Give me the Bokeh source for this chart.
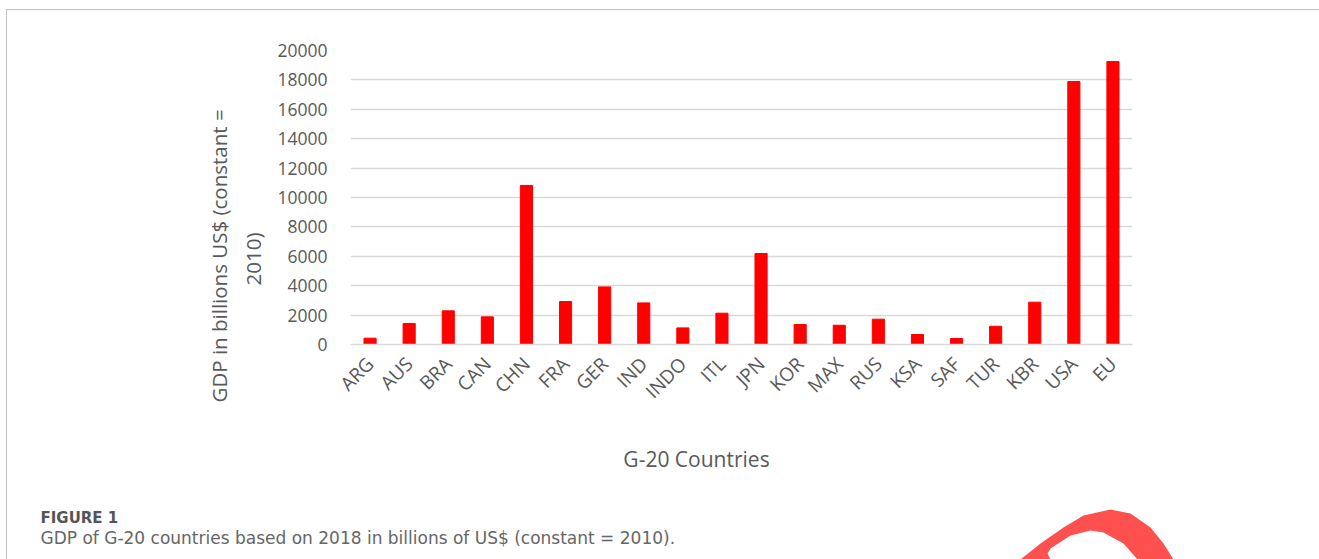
import math
from bokeh.plotting import figure
from bokeh.models import Range1d, FixedTicker, Title
from bokeh.layouts import column, row
from bokeh.core.properties import value
from bokeh.embed import file_html
from bokeh.resources import INLINE

countries = ["ARG", "AUS", "BRA", "CAN", "CHN", "FRA", "GER", "IND", "INDO", "ITL",
             "JPN", "KOR", "MAX", "RUS", "KSA", "SAF", "TUR", "KBR", "USA", "EU"]
gdp = [430, 1430, 2290, 1880, 10820, 2920, 3920, 2830, 1130, 2130,
       6190, 1360, 1310, 1720, 680, 410, 1240, 2880, 17890, 19250]
y_ticks = [0, 2000, 4000, 6000, 8000, 10000, 12000, 14000, 16000, 18000, 20000]
y_title_1 = "GDP in billions US$ (constant ="
y_title_2 = "2010)"
x_title = "G-20 Countries"
fig_label = "FIGURE 1"
caption = "GDP of G-20 countries based on 2018 in billions of US$ (constant = 2010)."

W, H = 1319, 559
FONT = "Open Sans"
CAP_FONT = "DejaVu Sans"
GRAY = "#595959"
FRAME = "#c4c4c4"

OX, OY = 7, 10           # content origin (after margin + 1px border)
CW = W - OX              # content width
P_H = 430                # chart figure height (global 10..440)
B_H = H - OY - P_H       # bottom figure height (global 440..559)

# main chart
p = figure(width=CW, height=P_H, x_range=countries, y_range=Range1d(0, 20000),
           output_backend="svg", toolbar_location=None,
           min_border_left=350 - OX, min_border_right=W - 1132,
           min_border_top=50 - OY, min_border_bottom=OY + P_H - 344)
p.outline_line_color = None
p.background_fill_color = "white"
p.border_fill_color = "white"

p.vbar(x=countries, top=gdp, width=0.31, color="#ff0000")

p.yaxis.ticker = FixedTicker(ticks=y_ticks)
p.yaxis.axis_line_color = None
p.yaxis.major_tick_line_color = None
p.yaxis.minor_tick_line_color = None
p.yaxis.major_label_standoff = 17
p.yaxis.major_label_text_font = FONT
p.yaxis.major_label_text_font_size = "17.5px"
p.yaxis.major_label_text_color = GRAY

p.xaxis.axis_line_color = "#d9d9d9"
p.xaxis.axis_line_width = 1.5
p.xaxis.major_tick_line_color = None
p.xaxis.minor_tick_line_color = None
p.xaxis.major_label_orientation = math.pi / 4
p.xaxis.major_label_standoff = 10
p.xaxis.major_label_text_font = FONT
p.xaxis.major_label_text_font_size = "19px"
p.xaxis.major_label_text_color = GRAY

p.xgrid.grid_line_color = None
p.ygrid.grid_line_color = "#d9d9d9"
p.ygrid.grid_line_width = 1.5


def make_title(text, standoff, offset):
    kw = dict(text=text, align="left", offset=offset, text_font=FONT,
              text_font_size="20.5px", text_font_style="normal", text_color=GRAY)
    try:
        return Title(standoff=standoff, **kw)
    except Exception:
        return Title(standoff=max(standoff, 0), **kw)


p.add_layout(make_title(y_title_2, 16, 59), "left")
p.add_layout(make_title(y_title_1, -8, -58), "left")

# bottom panel: x title, caption, decoration
bot = figure(width=CW, height=B_H, x_range=Range1d(OX, W), y_range=Range1d(H, OY + P_H),
             output_backend="svg", toolbar_location=None, min_border=0)
bot.axis.visible = False
bot.grid.visible = False
bot.outline_line_color = None
bot.background_fill_color = "white"
bot.border_fill_color = "white"


def txt(f, x, y, text, size, font=FONT, color=GRAY, align="left", style="normal"):
    f.text(x=[x], y=[y], text=[text], text_align=align, text_baseline="middle",
           text_font=value(font), text_font_size=size, text_color=color,
           text_font_style=style)


txt(bot, 696, 458, x_title, "21px", align="center")
txt(bot, 40, 517, fig_label, "15px", font=CAP_FONT, color="#555555", style="bold")
txt(bot, 40, 537, caption, "17px", font=CAP_FONT, color="#666666")

sx = [1020, 1040, 1063, 1083, 1110, 1130, 1150, 1163, 1173,
      1137, 1123, 1103, 1090, 1070, 1050, 1047, 1050]
sy = [559, 543, 527, 515, 509, 513, 527, 543, 559,
      559, 543, 532, 530, 535, 548, 553, 559]
bot.patch(x=sx, y=sy, fill_color="#ff5050", line_color=None)

layout = column(row(p), row(bot), margin=(9, 0, 0, 6),
                styles={"border-top": f"1px solid {FRAME}",
                        "border-left": f"1px solid {FRAME}"})
open("out.html", "w").write(file_html(layout, INLINE))
